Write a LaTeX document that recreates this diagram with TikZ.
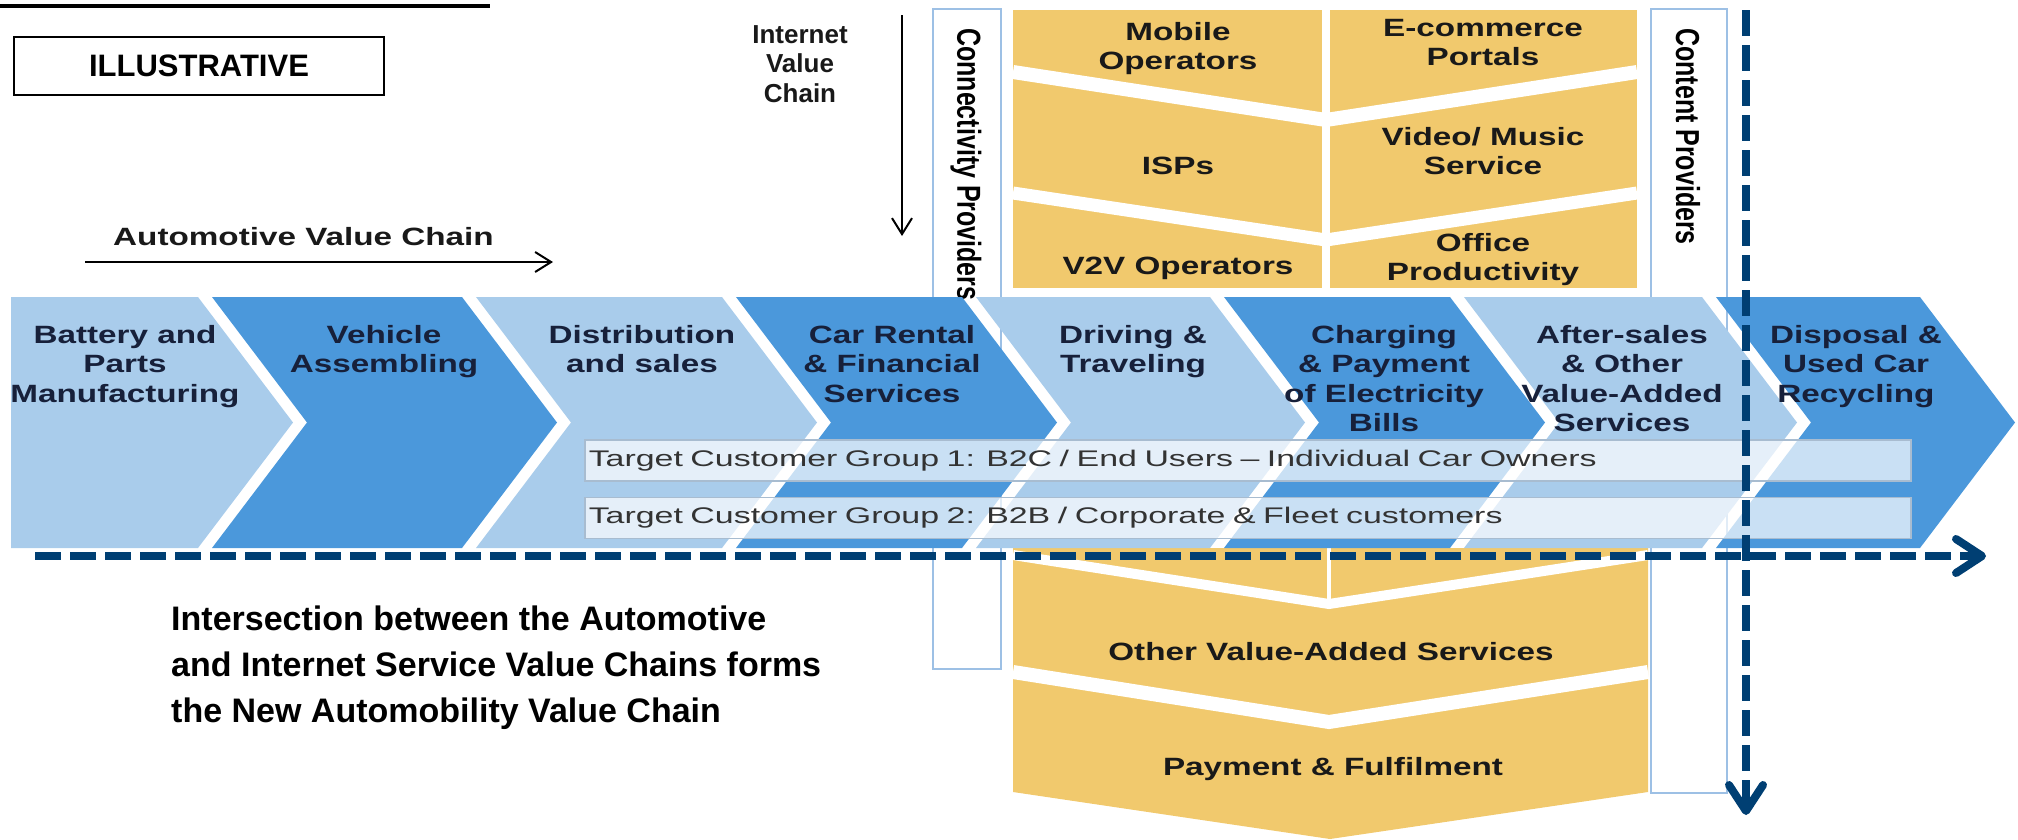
\documentclass[tikz,border=0pt]{standalone}
\usepackage{fontspec}
\setmainfont{Liberation Sans}
\newfontfamily\chevfont[FakeStretch=1.33]{Liberation Sans}
\newfontfamily\barfont[FakeStretch=1.5]{Liberation Sans}
\usepackage{tikz}
\usetikzlibrary{arrows.meta,positioning}
\definecolor{litechev}{HTML}{A9CCEB}
\definecolor{darkchev}{HTML}{4B98DB}
\definecolor{tileyellow}{HTML}{F1C96D}
\definecolor{dashnavy}{HTML}{003F73}
\definecolor{provblue}{HTML}{9DC0E5}
\definecolor{barline}{HTML}{A8BCD0}
\definecolor{chevink}{HTML}{17203A}

\begin{document}
\begin{tikzpicture}[
  x=1pt,y=-1pt,
  lt/.style={fill=litechev},
  dk/.style={fill=darkchev},
  lbl/.style={font=\chevfont\bfseries\fontsize{25}{29.5}\selectfont,align=center,inner sep=0pt,anchor=north,text=black!90},
  chevlbl/.style={lbl,text=chevink},
  provbox/.style={draw=provblue,line width=2pt,fill=white,anchor=north west,inner sep=0pt},
  provlbl/.style={font=\bfseries\fontsize{25}{29.5}\selectfont,inner sep=0pt,rotate=-90,anchor=west},
  sep/.style={white,line width=14pt},
  grpbar/.style={draw=barline,line width=1.5pt,fill=white,fill opacity=.7,text opacity=1,anchor=west,minimum height=41pt,text width=1318pt,inner xsep=4pt,align=left,font=\barfont\fontsize{22.6}{26}\selectfont,text=black!80},
  dasharr/.style={draw=dashnavy,line width=8pt,dash pattern=on 26pt off 9pt,-{Straight Barb[length=26pt,width=34pt,round]}},
  thinarr/.style={draw=black,line width=2pt,-{Straight Barb[length=16pt,width=20pt]}}
]
\useasboundingbox (0,0) rectangle (2018,839);

\draw[line width=4pt] (0,6) -- (490,6);
\node[draw,line width=2pt,minimum width=370pt,minimum height=58pt,anchor=north west,inner sep=0pt,font=\bfseries\fontsize{31}{36}\selectfont] (illus) at (13,36) {ILLUSTRATIVE};

\node[provbox,minimum width=68pt,minimum height=660pt] (conn) at (932,8) {};
\node[provlbl] (conntxt) at (966,28) {\scalebox{1}[1.33]{Connectivity Providers}};
\node[provbox,minimum width=76pt,minimum height=784pt] (cont) at (1650,8) {};
\node[provlbl] (conttxt) at (1688,28) {\scalebox{1}[1.33]{Content Providers}};

\fill[tileyellow] (1013,10) rectangle (1637,288);
\draw[white,line width=8pt] (1326,10) -- (1326,288);
\draw[sep] (1013,72) -- (1326,120) -- (1637,72);
\draw[sep,line width=13pt] (1013,193) -- (1326,240) -- (1637,193);
\node[lbl] (mobile) at (1178,22) {Mobile\\Operators};
\node[lbl] (ecom) at (1483,19) {E-commerce\\Portals};
\node[lbl] (isp) at (1178,157) {ISPs};
\node[lbl] (video) at (1483,127) {Video/ Music\\Service};
\node[lbl] (v2v) at (1178,257) {V2V Operators};
\node[lbl] (office) at (1483,233) {Office\\Productivity};

\fill[tileyellow] (1013,548) -- (1648,548) -- (1648,792) -- (1330,839) -- (1013,792) -- cycle;
\draw[white,line width=4pt] (1329,548) -- (1329,604);
\draw[sep,line width=10pt] (1013,555) -- (1329,604) -- (1648,555);
\draw[sep] (1013,672) -- (1329,722) -- (1648,672);
\node[lbl] (ovas) at (1331,642) {Other Value-Added Services};
\node[lbl] (payful) at (1333,757) {Payment \& Fulfilment};

\fill[lt] (11,297) -- (198,297) -- (293,422.5) -- (198,548) -- (11,548) -- cycle;
\fill[dk] (212,297) -- (462,297) -- (557,422.5) -- (462,548) -- (212,548) -- (307,422.5) -- cycle;
\fill[lt] (476,297) -- (722,297) -- (817,422.5) -- (722,548) -- (476,548) -- (571,422.5) -- cycle;
\fill[dk] (736,297) -- (962,297) -- (1057,422.5) -- (962,548) -- (736,548) -- (831,422.5) -- cycle;
\fill[lt] (976,297) -- (1210,297) -- (1305,422.5) -- (1210,548) -- (976,548) -- (1071,422.5) -- cycle;
\fill[dk] (1224,297) -- (1450,297) -- (1545,422.5) -- (1450,548) -- (1224,548) -- (1319,422.5) -- cycle;
\fill[lt] (1464,297) -- (1702,297) -- (1797,422.5) -- (1702,548) -- (1464,548) -- (1559,422.5) -- cycle;
\fill[dk] (1716,297) -- (1920,297) -- (2015,422.5) -- (1920,548) -- (1716,548) -- (1811,422.5) -- cycle;

\node[chevlbl] (batt) at (125,325) {Battery and\\Parts\\Manufacturing};
\node[chevlbl] (assem) at (384,325) {Vehicle\\Assembling};
\node[chevlbl] (distr) at (642,325) {Distribution\\and sales};
\node[chevlbl] (rental) at (892,325) {Car Rental\\\& Financial\\Services};
\node[chevlbl] (driving) at (1133,325) {Driving \&\\Traveling};
\node[chevlbl] (charging) at (1384,325) {Charging\\\& Payment\\of Electricity\\Bills};
\node[chevlbl] (aftersales) at (1622,325) {After-sales\\\& Other\\Value-Added\\Services};
\node[chevlbl] (disposal) at (1856,325) {Disposal \&\\Used Car\\Recycling};

\node[grpbar] (grp1) at (584,460.5) {Target Customer Group 1: B2C / End Users – Individual Car Owners};
\node[grpbar,below=15pt of grp1] (grp2) {Target Customer Group 2: B2B / Corporate \& Fleet customers};

\coordinate (hstart) at (35,556);
\coordinate (hend) at (1986,556);
\coordinate (vtop) at (1746,10);
\coordinate (vbot) at (1746,815);
\draw[dasharr] (hstart) -- (hend);
\draw[dasharr] (vtop) -- (vbot);

\node[font=\bfseries\fontsize{26}{29.5}\selectfont,align=center,inner sep=0pt,anchor=north,text=black!90] (ivc) at (800,25) {Internet\\Value\\Chain};
\coordinate (ivtop) at (902,15);
\coordinate (ivbot) at (902,236);
\draw[thinarr] (ivtop) -- (ivbot);

\node[font=\chevfont\bfseries\fontsize{25}{29.5}\selectfont,inner sep=0pt,anchor=base west,text=black!90] (avc) at (113,245) {Automotive Value Chain};
\coordinate (avleft) at (85,262);
\coordinate (avright) at (553,262);
\draw[thinarr] (avleft) -- (avright);

\node[font=\bfseries\fontsize{34}{46}\selectfont,align=left,inner sep=0pt,anchor=north west] (intersect) at (171,606) {Intersection between the Automotive\\and Internet Service Value Chains forms\\the New Automobility Value Chain};
\end{tikzpicture}
\end{document}
